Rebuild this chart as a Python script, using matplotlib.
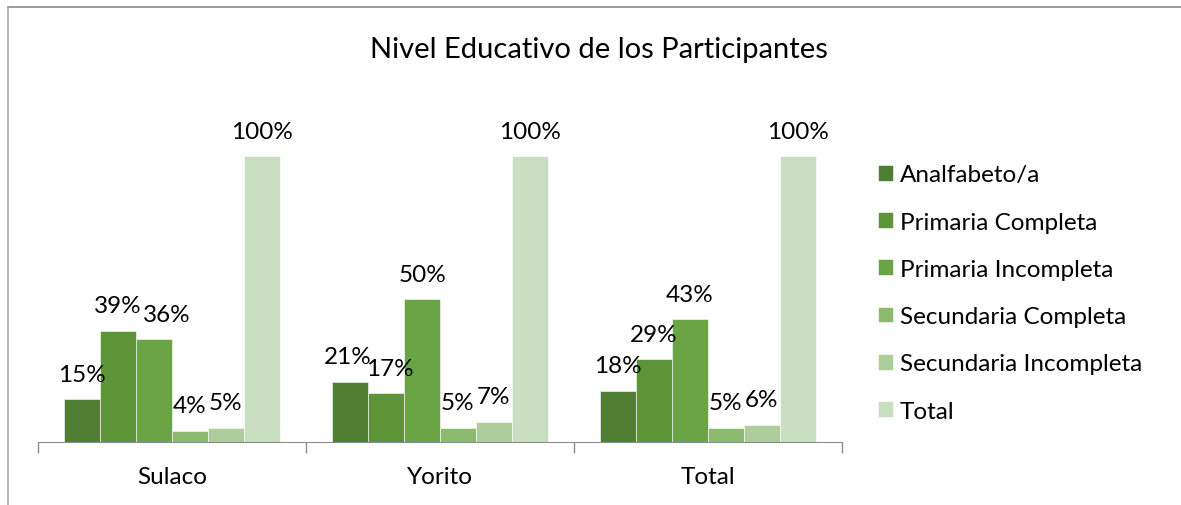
import numpy as np
import matplotlib
matplotlib.use("Agg")
import matplotlib.pyplot as plt
from matplotlib.lines import Line2D

plt.rcParams['font.family'] = ['Lato', 'DejaVu Sans']

# data
groups = ["Sulaco", "Yorito", "Total"]
series = ["Analfabeto/a", "Primaria Completa", "Primaria Incompleta",
          "Secundaria Completa", "Secundaria Incompleta", "Total"]
analfabeto = [15, 21, 18]
primaria_completa = [39, 17, 29]
primaria_incompleta = [36, 50, 43]
secundaria_completa = [4, 5, 5]
secundaria_incompleta = [5, 7, 6]
total = [100, 100, 100]
values = [analfabeto, primaria_completa, primaria_incompleta,
          secundaria_completa, secundaria_incompleta, total]

colors = ["#507e32", "#5e9438", "#6ba444", "#8bba6e", "#adcd9c", "#c9ddc0"]

W, H = 1181, 506
fig = plt.figure(figsize=(W / 100, H / 100), dpi=100)
ax = fig.add_axes([38 / W, 1 - 443 / H, (842 - 38) / W, (443 - 100) / H])

x = np.arange(len(groups))
bw = 0.134
# small horizontal nudges (points) where labels would collide
nudge = {(2, 0): 9, (0, 1): -2, (1, 1): 3}
for i, (name, vals) in enumerate(zip(series, values)):
    pos = x - 2.5 * bw + i * bw
    bars = ax.bar(pos, vals, width=bw, color=colors[i], label=name,
                  edgecolor="white", linewidth=0.4)
    for j, (b, v) in enumerate(zip(bars, vals)):
        ax.annotate(f"{v}%", (b.get_x() + b.get_width() / 2, v),
                    xytext=(nudge.get((i, j), 0), 10.5), textcoords="offset points",
                    ha="center", va="bottom", fontsize=17.5, color="#000000")

ax.set_xlim(-0.5, len(groups) - 0.5)
ax.set_ylim(0, 120)
ax.set_yticks([])
for s in ["top", "right", "left"]:
    ax.spines[s].set_visible(False)
ax.spines["bottom"].set_color("#8c8c8c")
ax.set_xticks(np.arange(len(groups) + 1) - 0.5, minor=False)
ax.set_xticklabels([""] * (len(groups) + 1))
ax.tick_params(axis="x", length=8, color="#8c8c8c", width=1)
for k, g in enumerate(groups):
    ax.text(k, -0.1, g, transform=ax.get_xaxis_transform(), ha="center",
            va="center", fontsize=17.5)

fig.text(599 / W, 1 - 50 / H, "Nivel Educativo de los Participantes",
         ha="center", va="center", fontsize=21)

ax.legend(loc="center left", bbox_to_anchor=(878 / W, 1 - 294 / H),
          bbox_transform=fig.transFigure, frameon=False, fontsize=17.5,
          handlelength=0.62, handleheight=0.62, handletextpad=0.28,
          labelspacing=1.08, borderaxespad=0, borderpad=0)

# chart frame (cropped)
fig.add_artist(Line2D([8 / W, 1], [1 - 8 / H, 1 - 8 / H], color="#8a8a8a", lw=1.2))
fig.add_artist(Line2D([8 / W, 8 / W], [0, 1 - 8 / H], color="#a8a8a8", lw=1.2))

fig.savefig("out.png", dpi=100)
